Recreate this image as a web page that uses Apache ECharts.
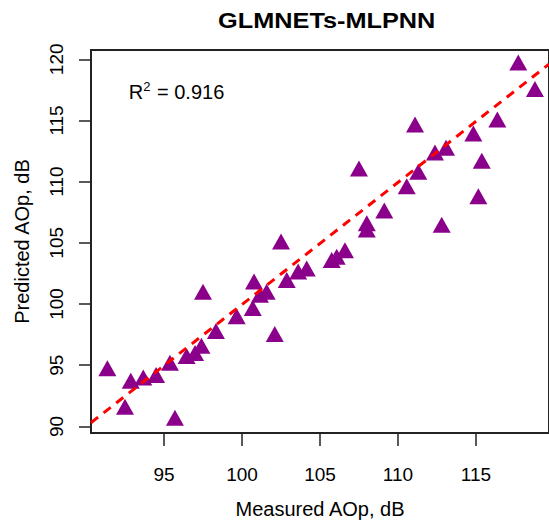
<!DOCTYPE html>
<html><head><meta charset="utf-8">
<script src="https://cdn.jsdelivr.net/npm/echarts@6/dist/echarts.min.js"></script>
<style>html,body{margin:0;padding:0;background:#fff}#c{width:549px;height:524px}</style>
</head><body><div id="c"></div>
<script>
const chartTitle = 'GLMNETs-MLPNN';
const xName = 'Measured AOp, dB';
const yName = 'Predicted AOp, dB';
const measured = [91.37, 92.5, 92.87, 93.67, 94.49, 95.7, 95.38, 96.45, 96.99, 97.4,
  97.5, 98.33, 99.66, 100.69, 100.77, 101.15, 101.58, 102.1, 102.5, 102.87,
  103.6, 104.15, 105.75, 106.07, 106.6, 108.0, 108.0, 107.5, 109.12, 110.56,
  111.3, 111.09, 112.37, 113.08, 112.8, 114.83, 115.37, 115.15, 116.37, 117.71, 118.78];
const predicted = [94.75, 91.6, 93.73, 94.0, 94.2, 90.7, 95.2, 95.75, 96.0, 96.6,
  101.0, 97.8, 99.0, 99.67, 101.84, 100.75, 101.0, 97.56, 105.1, 101.97,
  102.65, 102.9, 103.6, 103.87, 104.4, 106.6, 106.1, 111.08, 107.65, 109.62,
  110.8, 114.67, 112.38, 112.78, 106.48, 113.94, 111.7, 108.8, 115.08, 119.73, 117.57];
const fitX = [90.32, 119.68];
const fitY = [90.3, 119.6];
const xTicks = [95, 100, 105, 110, 115];
const yTicks = [90, 95, 100, 105, 110, 115, 120];
const xRange = [90.32, 119.68];
const yRange = [89.46, 120.76];
const r2Value = '0.916';
const r2Pos = [95.8, 117.35];

const FONT = 'Liberation Sans, Arial, Helvetica, sans-serif';
const chart = echarts.init(document.getElementById('c'), null, {renderer: 'svg'});
const pts = measured.map((m, i) => [m, predicted[i]]);
const axisCommon = {
  type: 'value', splitLine: {show: false}, axisLine: {show: false},
  nameLocation: 'middle',
  nameTextStyle: {fontFamily: FONT, fontSize: 20, color: '#000'}
};
chart.setOption({
  animation: false,
  backgroundColor: '#fff',
  grid: {left: 91, top: 50, right: 0, bottom: 88, show: true, borderColor: '#222', borderWidth: 2, backgroundColor: 'transparent'},
  xAxis: Object.assign({}, axisCommon, {
    min: xRange[0], max: xRange[1], name: xName, nameGap: 66,
    axisTick: {show: true, inside: false, length: 13, customValues: xTicks, lineStyle: {color: '#222', width: 1.5}},
    axisLabel: {customValues: xTicks, margin: 32, fontFamily: FONT, fontSize: 19, color: '#000'}
  }),
  yAxis: Object.assign({}, axisCommon, {
    min: yRange[0], max: yRange[1], name: yName, nameGap: 59,
    axisTick: {show: true, inside: false, length: 12, customValues: yTicks, lineStyle: {color: '#222', width: 1.5}},
    axisLabel: {customValues: yTicks, rotate: 90, margin: 25, fontFamily: FONT, fontSize: 19, color: '#000'}
  }),
  series: [
    {type: 'scatter', data: pts, symbol: 'triangle', symbolSize: [18, 16],
      itemStyle: {color: '#8B008B', opacity: 1}, z: 2},
    {type: 'line', data: fitX.map((x, i) => [x, fitY[i]]), symbol: 'none', z: 3,
      lineStyle: {color: '#ff0000', width: 3, type: [9, 7]}}
  ]
});
const p = chart.convertToPixel({gridIndex: 0}, r2Pos);
chart.setOption({
  graphic: [{
    type: 'text', x: 326.7, y: 21, scaleX: 1.15,
    style: {
      text: chartTitle, align: 'center', verticalAlign: 'middle',
      fontFamily: FONT, fontSize: 22, fontWeight: 'bold', fill: '#000'
    }
  }, {
    type: 'text', x: p[0], y: p[1],
    style: {
      text: '{r|R}{s|2}{r| = ' + r2Value + '}',
      align: 'center', verticalAlign: 'middle',
      rich: {
        r: {fontFamily: FONT, fontSize: 20, fill: '#000', lineHeight: 24},
        s: {fontFamily: FONT, fontSize: 13, fill: '#000', verticalAlign: 'top', lineHeight: 24, padding: [0, 1, 10, 0]}
      }
    }
  }]
});
</script></body></html>
